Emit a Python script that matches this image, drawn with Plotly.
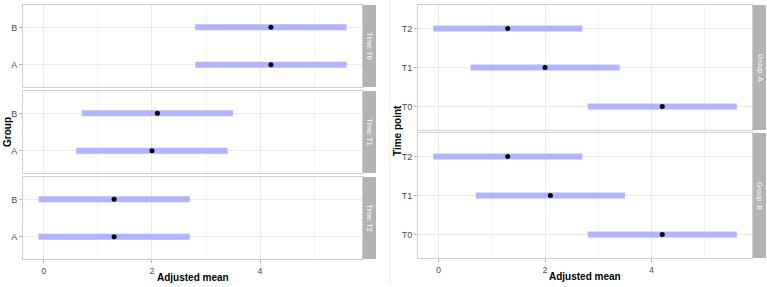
import plotly.graph_objects as go

# ---- data ----
time_points = ["T0", "T1", "T2"]
groups = ["A", "B"]
mean_A = [4.2, 2.0, 1.3]
low_A = [2.8, 0.6, -0.1]
high_A = [5.6, 3.4, 2.7]
mean_B = [4.2, 2.1, 1.3]
low_B = [2.8, 0.7, -0.1]
high_B = [5.6, 3.5, 2.7]
x_ticks = [0, 2, 4]

W, H = 767, 287
BAR = "#B3B3FF"
GRID = "#EBEBEB"
GRID_MINOR = "#F2F2F2"
BORDER = "#CFCFCF"
STRIP = "#B3B3B3"
FONT = "Liberation Sans"
XR = [-0.385, 5.885]

def px(x):
    return x / W

def py(y):
    return 1 - y / H

fig = go.Figure()

left_x = (23, 362)
right_x = (418, 752)
panels = [
    (1, left_x, (5, 87), groups, "Time: T0", False),
    (2, left_x, (91, 173), groups, "Time: T1", False),
    (3, left_x, (177, 259), groups, "Time: T2", True),
    (4, right_x, (5, 130), time_points, "Group: A", False),
    (5, right_x, (133, 258), time_points, "Group: B", True),
]

data = {}
for i, tp in enumerate(time_points):
    data[(1 + i, "A")] = (mean_A[i], low_A[i], high_A[i])
    data[(1 + i, "B")] = (mean_B[i], low_B[i], high_B[i])
for i, tp in enumerate(time_points):
    data[(4, tp)] = (mean_A[i], low_A[i], high_A[i])
    data[(5, tp)] = (mean_B[i], low_B[i], high_B[i])

layout = {}
annotations = []
shapes = []
for (k, xd, yd, cats, label, bottom) in panels:
    sfx = "" if k == 1 else str(k)
    xa = "x" + sfx
    ya = "y" + sfx
    for c in cats:
        m, lo, hi = data[(k, c)]
        fig.add_trace(go.Scatter(x=[lo, hi], y=[c, c], mode="lines",
                                 line=dict(color=BAR, width=6),
                                 xaxis=xa, yaxis=ya, showlegend=False,
                                 hoverinfo="skip"))
        fig.add_trace(go.Scatter(x=[m], y=[c], mode="markers",
                                 marker=dict(color="black", size=5),
                                 xaxis=xa, yaxis=ya, showlegend=False))
    layout["xaxis" + sfx] = dict(
        domain=[px(xd[0]), px(xd[1])], anchor=ya, range=XR,
        tickvals=x_ticks, ticktext=[str(t) for t in x_ticks],
        showticklabels=bottom, ticks="outside" if bottom else "",
        ticklen=3, tickcolor=STRIP,
        tickfont=dict(size=9, color="#4D4D4D", family=FONT),
        showgrid=True, gridcolor=GRID, gridwidth=1,
        minor=dict(tickvals=[1, 3, 5], showgrid=True, gridcolor=GRID_MINOR, gridwidth=0.6),
        showline=True, mirror=True, linecolor=BORDER, linewidth=1,
        zeroline=False, fixedrange=True)
    layout["yaxis" + sfx] = dict(
        domain=[py(yd[1]), py(yd[0])], anchor=xa, type="category",
        categoryorder="array", categoryarray=cats,
        range=[-0.6, len(cats) - 0.4],
        ticks="outside", ticklen=3, tickcolor=STRIP,
        tickfont=dict(size=9, color="#4D4D4D", family=FONT),
        showgrid=True, gridcolor=GRID, gridwidth=1,
        showline=True, mirror=True, linecolor=BORDER, linewidth=1,
        zeroline=False, fixedrange=True)
    sx0 = xd[1] + 1
    sx1 = sx0 + 13
    shapes.append(dict(type="rect", xref="paper", yref="paper",
                       x0=px(sx0), x1=px(sx1), y0=py(yd[1]), y1=py(yd[0]),
                       fillcolor=STRIP, line=dict(width=0), layer="below"))
    annotations.append(dict(text=label, xref="paper", yref="paper",
                            x=px((sx0 + sx1) / 2), y=py((yd[0] + yd[1]) / 2),
                            showarrow=False, textangle=90,
                            font=dict(size=7, color="white", family=FONT),
                            xanchor="center", yanchor="middle"))

annotations += [
    dict(text="<b>Adjusted mean</b>", xref="paper", yref="paper",
         x=px(192.5), y=py(277), showarrow=False,
         font=dict(size=10, color="black", family=FONT),
         xanchor="center", yanchor="middle"),
    dict(text="<b>Adjusted mean</b>", xref="paper", yref="paper",
         x=px(585), y=py(276), showarrow=False,
         font=dict(size=10, color="black", family=FONT),
         xanchor="center", yanchor="middle"),
    dict(text="<b>Group</b>", xref="paper", yref="paper",
         x=px(7), y=py(132), showarrow=False, textangle=-90,
         font=dict(size=10, color="black", family=FONT),
         xanchor="center", yanchor="middle"),
    dict(text="<b>Time point</b>", xref="paper", yref="paper",
         x=px(397), y=py(131), showarrow=False, textangle=-90,
         font=dict(size=10, color="black", family=FONT),
         xanchor="center", yanchor="middle"),
]

shapes.append(dict(type="line", xref="paper", yref="paper",
                   x0=px(390), x1=px(390), y0=py(283), y1=py(0),
                   line=dict(color="#EEEEEE", width=1)))

fig.update_layout(width=W, height=H, margin=dict(l=0, r=0, t=0, b=0),
                  paper_bgcolor="white", plot_bgcolor="white",
                  annotations=annotations, shapes=shapes, **layout)

fig.write_html("out.html")
